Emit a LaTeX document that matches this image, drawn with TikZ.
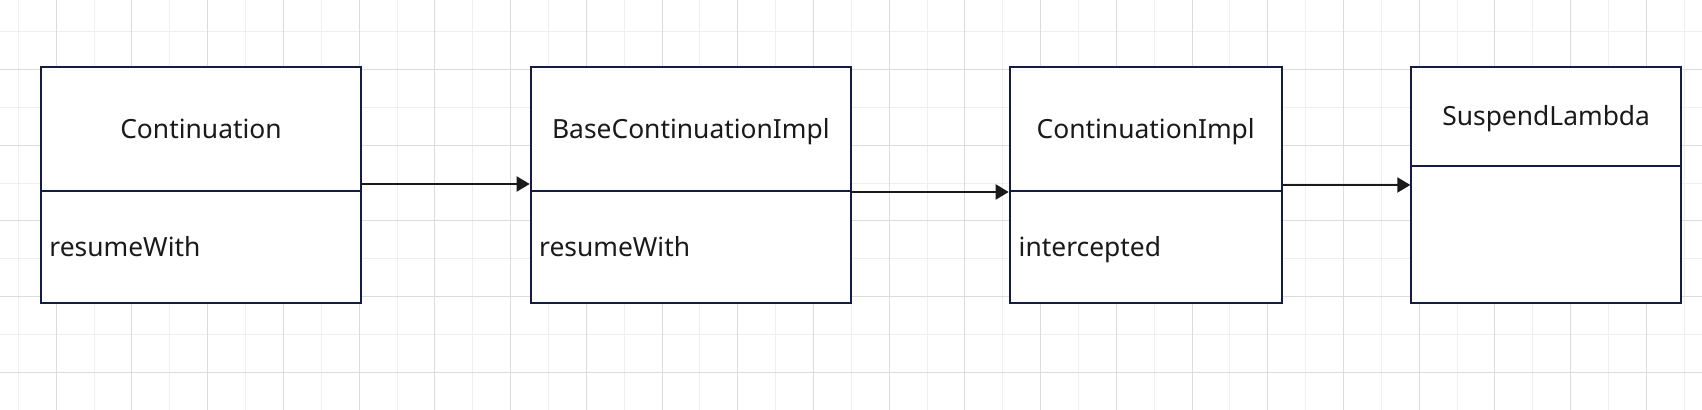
\documentclass[tikz,border=0pt]{standalone}
\usepackage{fontspec}
\setmainfont{Noto Sans}
\usetikzlibrary{arrows.meta}
\definecolor{gridlight}{HTML}{EFEFEF}
\definecolor{griddark}{HTML}{DCDCDC}
\definecolor{boxline}{HTML}{141C45}
\definecolor{ink}{HTML}{1A1A1A}
\begin{document}
\begin{tikzpicture}[x=0.5pt,y=-0.5pt,
  txt/.style={font=\fontsize{13.2}{16}\selectfont, text=ink, text height=9.4pt, text depth=0pt},
  comp/.style={txt, draw=boxline, line width=1pt, fill=white, rectangle, inner sep=0pt},
  item/.style={txt, inner sep=0pt, anchor=west},
  arr/.style={draw=ink, line width=1pt, -{Triangle[length=6.5pt,width=7.5pt]}}]
\useasboundingbox (0,0) rectangle (1702,410);
\fill[white] (0,0) rectangle (1702,410);
% grid
\foreach \k in {0,2,...,44} \draw[gridlight, line width=0.5pt] ({18.4+37.86*\k},0) -- ++(0,410);
\foreach \k in {0,2,...,10} \draw[gridlight, line width=0.5pt] (0,{31.7+37.86*\k}) -- ++(1702,0);
\foreach \k in {1,3,...,43} \draw[griddark, line width=0.5pt] ({18.4+37.86*\k},0) -- ++(0,410);
\foreach \k in {1,3,...,9} \draw[griddark, line width=0.5pt] (0,{31.7+37.86*\k}) -- ++(1702,0);
% Continuation
\node[comp, minimum width=160pt, minimum height=56pt] (Ab) at (201,247) {};
\node[comp, minimum width=160pt, minimum height=62.15pt] (Ah) at (201,128.85) {Continuation};
\node[item] (At) at ([xshift=4.5pt]Ab.west) {resumeWith};
% BaseContinuationImpl
\node[comp, minimum width=160.15pt, minimum height=56pt] (Bb) at (690.85,247) {};
\node[comp, minimum width=160.15pt, minimum height=62.15pt] (Bh) at (690.85,128.85) {BaseContinuationImpl};
\node[item] (Bt) at ([xshift=4.5pt]Bb.west) {resumeWith};
% ContinuationImpl
\node[comp, minimum width=136pt, minimum height=56pt] (Cb) at (1145.7,247) {};
\node[comp, minimum width=136pt, minimum height=62.15pt] (Ch) at (1145.7,128.85) {ContinuationImpl};
\node[item] (Ct) at ([xshift=4.8pt]Cb.west) {intercepted};
% SuspendLambda
\node[comp, minimum width=134.85pt, minimum height=68.65pt] (Db) at (1546.15,234.35) {};
\node[comp, minimum width=134.85pt, minimum height=49.5pt] (Dh) at (1546.15,116.2) {SuspendLambda};
% connectors
\coordinate (yA) at (0,184);
\coordinate (yC) at (0,185);
\draw[arr] (Ah.east |- yA) -- (Bh.west |- yA);
\draw[arr] (Bh.south east) -- (Ch.south west);
\draw[arr] (Ch.east |- yC) -- (Db.west |- yC);
\end{tikzpicture}
\end{document}
